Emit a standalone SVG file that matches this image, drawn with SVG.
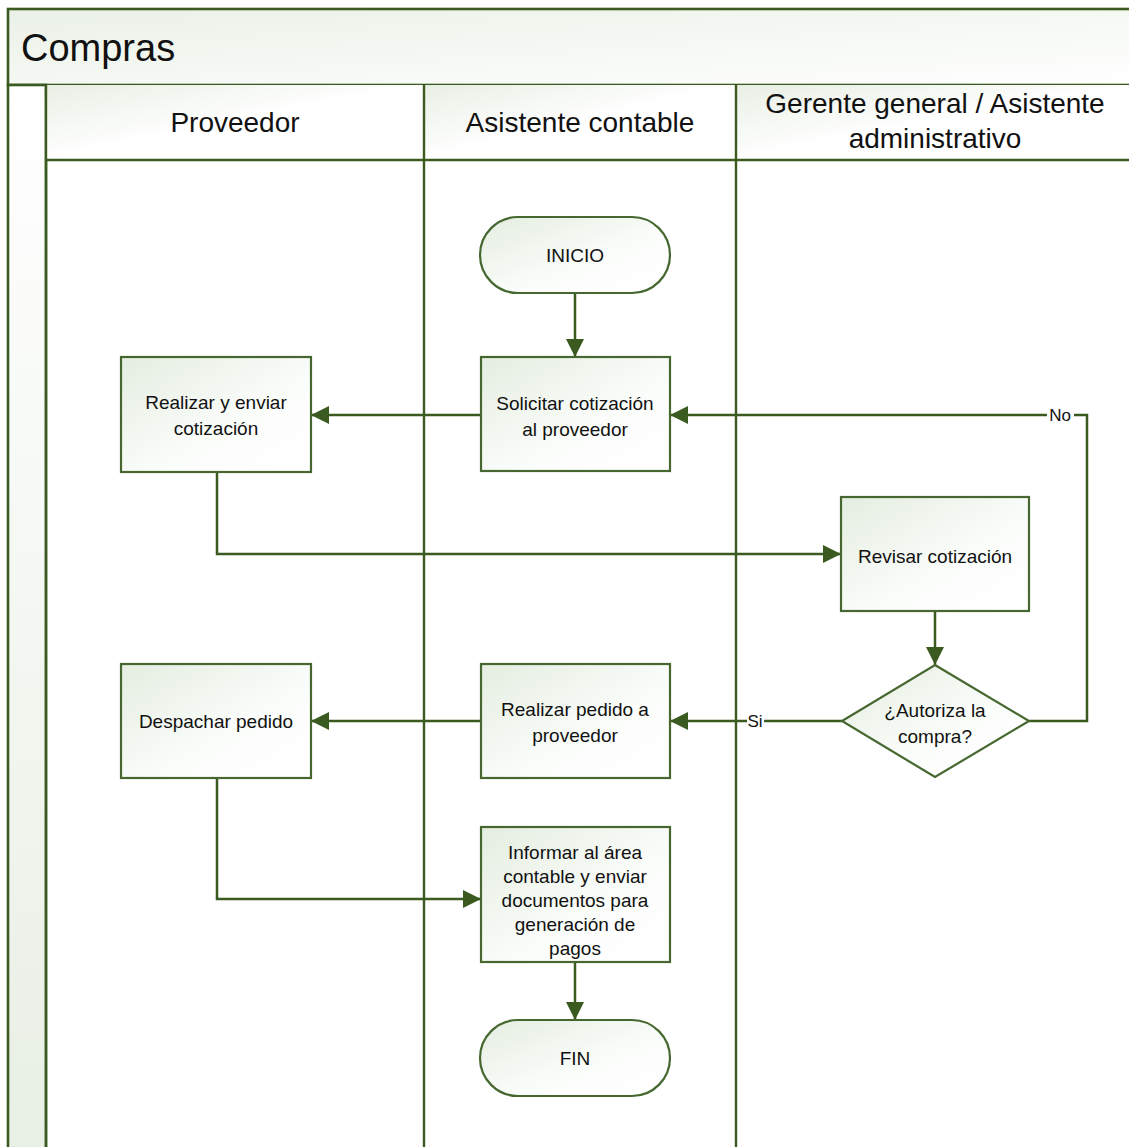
<svg xmlns="http://www.w3.org/2000/svg" width="1129" height="1147" viewBox="0 0 1129 1147">
<style>
.pool{stroke:#3a5a20;stroke-width:2.6;}
.lane{stroke:#3a5a20;stroke-width:2.4;fill:none;}
.box{fill:url(#gNode);stroke:#466830;stroke-width:2.2;}
.conn{stroke:#3a5a20;stroke-width:2.5;fill:none;}
text{font-family:"Liberation Sans",Arial,sans-serif;fill:#111;}
.t{font-size:19px;text-anchor:middle;}
.h{font-size:28px;text-anchor:middle;}
.lbl{font-size:17px;text-anchor:middle;}
</style>
<defs>
<linearGradient id="gNode" x1="0" y1="0" x2="1" y2="1">
<stop offset="0" stop-color="#e4ede0"/>
<stop offset="0.6" stop-color="#fbfdfb"/>
<stop offset="1" stop-color="#ffffff"/>
</linearGradient>
<linearGradient id="gTitle" x1="0" y1="0" x2="1" y2="1">
<stop offset="0" stop-color="#eaf1e7"/>
<stop offset="1" stop-color="#ffffff"/>
</linearGradient>
<linearGradient id="gHead" x1="0" y1="0" x2="1" y2="1">
<stop offset="0" stop-color="#e8efe4"/>
<stop offset="0.5" stop-color="#ffffff"/>
<stop offset="1" stop-color="#ffffff"/>
</linearGradient>
<linearGradient id="gStrip" x1="0" y1="0" x2="0" y2="1">
<stop offset="0" stop-color="#ffffff"/>
<stop offset="1" stop-color="#e8efe4"/>
</linearGradient>
<marker id="arr" markerUnits="userSpaceOnUse" markerWidth="18" markerHeight="18" refX="18" refY="9" orient="auto">
<path d="M0,0 L18,9 L0,18 z" fill="#3a5a1f"/>
</marker>
</defs>
<rect width="1129" height="1147" fill="#ffffff"/>

<g id="pool">
<rect x="8" y="9" width="1140" height="76" fill="url(#gTitle)" class="pool"/>
<text x="21" y="61" font-size="38">Compras</text>
<rect x="8" y="85" width="38" height="1070" fill="url(#gStrip)" class="pool"/>
</g>

<g id="lane-proveedor">
<rect x="46" y="85" width="378" height="75" fill="url(#gHead)"/>
<text class="h" x="235" y="132">Proveedor</text>
</g>
<g id="lane-asistente">
<rect x="424" y="85" width="312" height="75" fill="url(#gHead)"/>
<text class="h" x="580" y="132">Asistente contable</text>
</g>
<g id="lane-gerente">
<rect x="736" y="85" width="400" height="75" fill="url(#gHead)"/>
<text class="h" x="935" y="113">Gerente general / Asistente</text>
<text class="h" x="935" y="148">administrativo</text>
</g>
<g id="lane-lines">
<line class="lane" x1="46" y1="160" x2="1135" y2="160"/>
<line class="lane" x1="46" y1="85" x2="46" y2="1147"/>
<line class="lane" x1="424" y1="85" x2="424" y2="1147"/>
<line class="lane" x1="736" y1="85" x2="736" y2="1147"/>
</g>

<g id="connectors">
<line class="conn" x1="575" y1="293" x2="575" y2="357" marker-end="url(#arr)"/>
<line class="conn" x1="481" y1="415" x2="311" y2="415" marker-end="url(#arr)"/>
<polyline class="conn" points="217,472 217,554 841,554" marker-end="url(#arr)"/>
<line class="conn" x1="935" y1="611" x2="935" y2="665" marker-end="url(#arr)"/>
<line class="conn" x1="842" y1="721" x2="670" y2="721" marker-end="url(#arr)"/>
<polyline class="conn" points="1029,721 1087,721 1087,415 670,415" marker-end="url(#arr)"/>
<line class="conn" x1="481" y1="721" x2="311" y2="721" marker-end="url(#arr)"/>
<polyline class="conn" points="217,778 217,899 481,899" marker-end="url(#arr)"/>
<line class="conn" x1="575" y1="962" x2="575" y2="1020" marker-end="url(#arr)"/>
<rect x="1047" y="405" width="27" height="20" fill="#ffffff"/>
<text class="lbl" x="1060" y="421">No</text>
<rect x="747" y="711" width="17" height="20" fill="#ffffff"/>
<text class="lbl" x="755" y="727">Si</text>
</g>

<g id="n-inicio">
<rect class="box" x="480" y="217" width="190" height="76" rx="38" ry="38"/>
<text class="t" x="575" y="262" font-size="17">INICIO</text>
</g>
<g id="n-solicitar">
<rect class="box" x="481" y="357" width="189" height="114"/>
<text class="t" x="575" y="410">Solicitar cotización</text>
<text class="t" x="575" y="436">al proveedor</text>
</g>
<g id="n-realizar-enviar">
<rect class="box" x="121" y="357" width="190" height="115"/>
<text class="t" x="216" y="409">Realizar y enviar</text>
<text class="t" x="216" y="435">cotización</text>
</g>
<g id="n-revisar">
<rect class="box" x="841" y="497" width="188" height="114"/>
<text class="t" x="935" y="563">Revisar cotización</text>
</g>
<g id="n-autoriza">
<polygon class="box" points="935,665 1029,721 935,777 842,721"/>
<text class="t" x="935" y="717">¿Autoriza la</text>
<text class="t" x="935" y="743">compra?</text>
</g>
<g id="n-pedido">
<rect class="box" x="481" y="664" width="189" height="114"/>
<text class="t" x="575" y="716">Realizar pedido a</text>
<text class="t" x="575" y="742">proveedor</text>
</g>
<g id="n-despachar">
<rect class="box" x="121" y="664" width="190" height="114"/>
<text class="t" x="216" y="728">Despachar pedido</text>
</g>
<g id="n-informar">
<rect class="box" x="481" y="827" width="189" height="135"/>
<text class="t" x="575" y="859">Informar al área</text>
<text class="t" x="575" y="883">contable y enviar</text>
<text class="t" x="575" y="907">documentos para</text>
<text class="t" x="575" y="931">generación de</text>
<text class="t" x="575" y="955">pagos</text>
</g>
<g id="n-fin">
<rect class="box" x="480" y="1020" width="190" height="76" rx="38" ry="38"/>
<text class="t" x="575" y="1065" font-size="17">FIN</text>
</g>
</svg>
